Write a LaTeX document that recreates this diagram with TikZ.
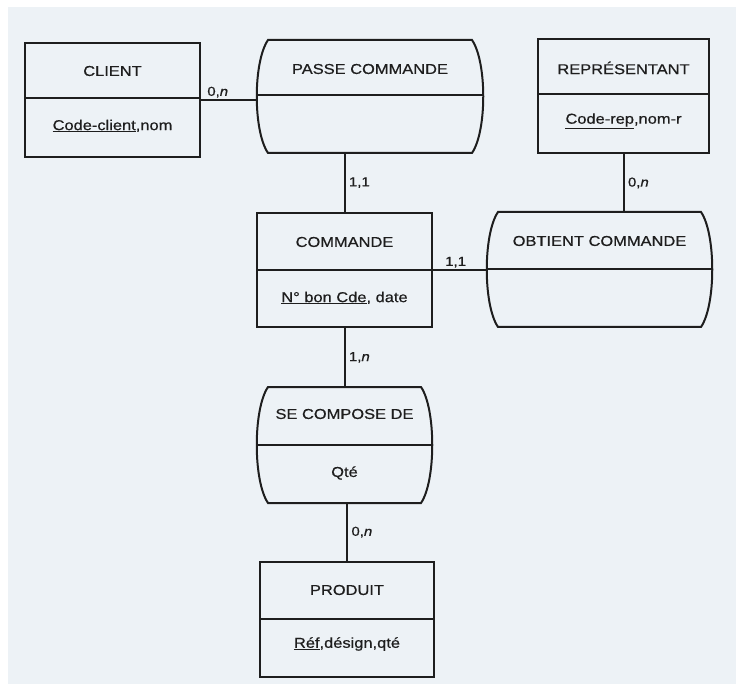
\documentclass[tikz,border=0pt]{standalone}
\usepackage{fontspec}
\setmainfont{Liberation Sans}[FakeStretch=1.15, FakeBold=0.6]
\usetikzlibrary{calc}
\definecolor{paper}{RGB}{237,242,246}
\definecolor{ink}{RGB}{30,30,30}
\tikzset{
	ent/.style={draw=ink, line width=2pt, inner sep=0pt},
	lbl/.style={font=\fontsize{14.3}{16}\selectfont, text=ink, inner sep=0pt},
	card/.style={font=\fontsize{13}{14}\selectfont, text=ink, inner sep=1.5pt},
	link/.style={draw=ink, line width=2pt}
}
\def\barrel(#1)(#2:#3:#4:#5:#6){\draw[ink, line width=2pt] (#2+11,#4) -- (#3-11,#4) .. controls (#3+4,#4+22) and (#3+4,#5-22) .. (#3-11,#5) -- (#2+11,#5) .. controls (#2-4,#5-22) and (#2-4,#4+22) .. cycle;
	\draw[ink, line width=2pt] (#2,#6) -- (#3,#6);
	\node[inner sep=0pt, minimum width=#3-#2, minimum height=#5-#4] (#1) at ({(#2+#3)/2},{(#4+#5)/2}) {};}
\def\entity(#1)(#2:#3:#4:#5:#6){\node[ent, minimum width=#3-#2, minimum height=#5-#4] (#1) at ({(#2+#3)/2},{(#4+#5)/2}) {};
	\draw[ink, line width=2pt] (#2,#6) -- (#3,#6);}

\begin{document}
\begin{tikzpicture}[x=1pt, y=-1pt]
			%%%%% START %%%%%
			
			\useasboundingbox (0,0) rectangle (736,684);
			\fill[paper] (8,7) rectangle (736,684);
			
			\entity(client)(25:200:43:157:98)
			\node[lbl] (clientname) at (112.5,71) {CLIENT};
			\node[lbl] (clientkey) at (112.5,126) {\underline{Code-client},nom};
			
			\barrel(passe)(257:483:40:153:95)
			\node[lbl] (passename) at (370,69) {PASSE COMMANDE};
			
			\entity(rep)(538:709:39:153:94)
			\node[lbl] (repname) at (623.5,68) {REPRÉSENTANT};
			\node[lbl] (repkey) at (623.5,121) {\underline{Code-rep},nom-r};
			
			\entity(commande)(257:432:213:327:270)
			\node[lbl] (commandename) at (344.5,242) {COMMANDE};
			\node[lbl] (commandekey) at (344.5,298) {\underline{N° bon Cde}, date};
			
			\barrel(obtient)(487:712:212:327:269)
			\node[lbl] (obtientname) at (599.5,241) {OBTIENT COMMANDE};
			
			\barrel(compose)(257:432:387:503:445)
			\node[lbl] (composename) at (344.5,414) {SE COMPOSE DE};
			\node[lbl] (composekey) at (344.5,473) {Qté};
			
			\entity(produit)(260:434:562:677:619)
			\node[lbl] (produitname) at (347,590) {PRODUIT};
			\node[lbl] (produitkey) at (347,644) {\underline{Réf},désign,qté};
			
			% cardinalities
			\draw[link] (client.east) -- node[card, above, pos=0.3] {0,\textit{n}} (client.east -| passe.west);
			\draw[link] (passe.south -| commande.north) -- node[card, right, xshift=2pt] {1,1} (commande.north);
			\draw[link] (rep.south) -- node[card, right, xshift=2pt] {0,\textit{n}} (rep.south |- obtient.north);
			\draw[link] (commande.east) -- node[card, above, pos=0.42] {1,1} (commande.east -| obtient.west);
			\draw[link] (commande.south) -- node[card, right, xshift=2pt] {1,\textit{n}} (compose.north);
			\draw[link] (produit.north |- compose.south) -- node[card, right, xshift=2pt] {0,\textit{n}} (produit.north);
			
			%%%%% END %%%%%
\end{tikzpicture}
\end{document}
